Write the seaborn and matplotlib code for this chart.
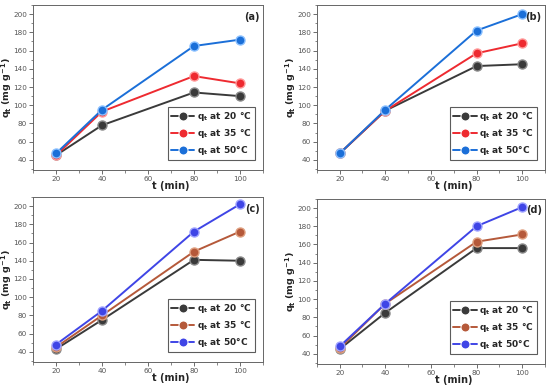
import numpy as np
import pandas as pd
import matplotlib
matplotlib.use('Agg')
import matplotlib.pyplot as plt
import seaborn as sns
from matplotlib.ticker import MultipleLocator

# Contact time (min)
time_min = [20, 40, 80, 100]

# Adsorption capacity q_t (mg/g) for each panel and temperature
qt_a_20 = [45, 78, 114, 110]
qt_a_35 = [45, 93, 132, 124]
qt_a_50 = [47, 95, 165, 172]

qt_b_20 = [47, 94, 143, 145]
qt_b_35 = [47, 94, 157, 168]
qt_b_50 = [47, 95, 182, 200]

qt_c_20 = [43, 75, 141, 140]
qt_c_35 = [45, 80, 150, 172]
qt_c_50 = [48, 85, 172, 202]

qt_d_20 = [45, 85, 156, 156]
qt_d_35 = [46, 95, 163, 171]
qt_d_50 = [48, 95, 180, 201]

series_labels = [r'$\mathbf{q_t}$ at 20 °C', r'$\mathbf{q_t}$ at 35 °C', r'$\mathbf{q_t}$ at 50°C']
panel_tags = ['(a)', '(b)', '(c)', '(d)']

panels = [
    [qt_a_20, qt_a_35, qt_a_50],
    [qt_b_20, qt_b_35, qt_b_50],
    [qt_c_20, qt_c_35, qt_c_50],
    [qt_d_20, qt_d_35, qt_d_50],
]

# Colours: top row red/blue, bottom row brown/violet
palettes = [
    ['#3a3a3a', '#ee2a30', '#1b6fd8'],
    ['#3a3a3a', '#ee2a30', '#1b6fd8'],
    ['#3a3a3a', '#b5593a', '#3f45e6'],
    ['#3a3a3a', '#b5593a', '#3f45e6'],
]
edge_palettes = [
    ['#8a8a8a', '#ff9a9a', '#8ac0ff'],
    ['#8a8a8a', '#ff9a9a', '#8ac0ff'],
    ['#8a8a8a', '#e0a080', '#a0a4ff'],
    ['#8a8a8a', '#e0a080', '#a0a4ff'],
]

sns.set_style('white')
plt.rcParams['font.family'] = ['DejaVu Sans']

fig = plt.figure(figsize=(5.5, 3.87), dpi=100)
positions = [
    [0.060, 0.561, 0.418, 0.426],
    [0.576, 0.561, 0.415, 0.426],
    [0.060, 0.065, 0.418, 0.426],
    [0.576, 0.060, 0.415, 0.426],
]

for i, series in enumerate(panels):
    ax = fig.add_axes(positions[i])
    df = pd.DataFrame({
        't': time_min * 3,
        'qt': series[0] + series[1] + series[2],
        'label': sum([[lab] * len(time_min) for lab in series_labels], []),
    })
    sns.lineplot(
        data=df, x='t', y='qt', hue='label', hue_order=series_labels,
        palette=palettes[i], marker='o', markersize=6.5, linewidth=1.4,
        ax=ax, legend=True
    )
    # Lighter rim on the markers to mimic the shaded balls
    for line, ec in zip(ax.get_lines(), edge_palettes[i]):
        line.set_markeredgecolor(ec)
        line.set_markeredgewidth(1.0)

    ax.set_xlim(10, 110)
    ax.set_ylim(29, 210)
    ax.xaxis.set_major_locator(MultipleLocator(20))
    ax.xaxis.set_minor_locator(MultipleLocator(10))
    ax.yaxis.set_major_locator(MultipleLocator(20))
    ax.yaxis.set_minor_locator(MultipleLocator(10))
    ax.tick_params(which='major', direction='out', length=3, width=0.6,
                   labelsize=5.2, colors='#555555', bottom=True, left=True, pad=1.2)
    ax.tick_params(which='minor', direction='out', length=1.8, width=0.5,
                   colors='#555555', bottom=True, left=True)
    for spine in ax.spines.values():
        spine.set_color('#666666')
        spine.set_linewidth(0.7)

    ax.set_xlabel('t (min)', fontsize=7, fontweight='bold')
    ax.xaxis.set_label_coords(0.6, -0.068)
    ax.set_ylabel(r'$\mathbf{q_t}$ (mg g$^{\mathbf{-1}}$)', fontsize=6.8,
                  fontweight='bold')
    ax.yaxis.set_label_coords(-0.082, 0.5)
    ax.text(0.985, 0.93, panel_tags[i], transform=ax.transAxes, ha='right',
            va='center', fontsize=7, fontweight='bold')

    leg = ax.legend(loc='lower right', fontsize=6.5, frameon=True, fancybox=False,
                    handlelength=2.6, handletextpad=0.3, borderpad=0.35,
                    labelspacing=0.45, bbox_to_anchor=(0.985, 0.03),
                    prop={'weight': 'bold', 'size': 6.5})
    leg.get_frame().set_edgecolor('#333333')
    leg.get_frame().set_linewidth(0.8)

fig.savefig('out.png', dpi=100)
